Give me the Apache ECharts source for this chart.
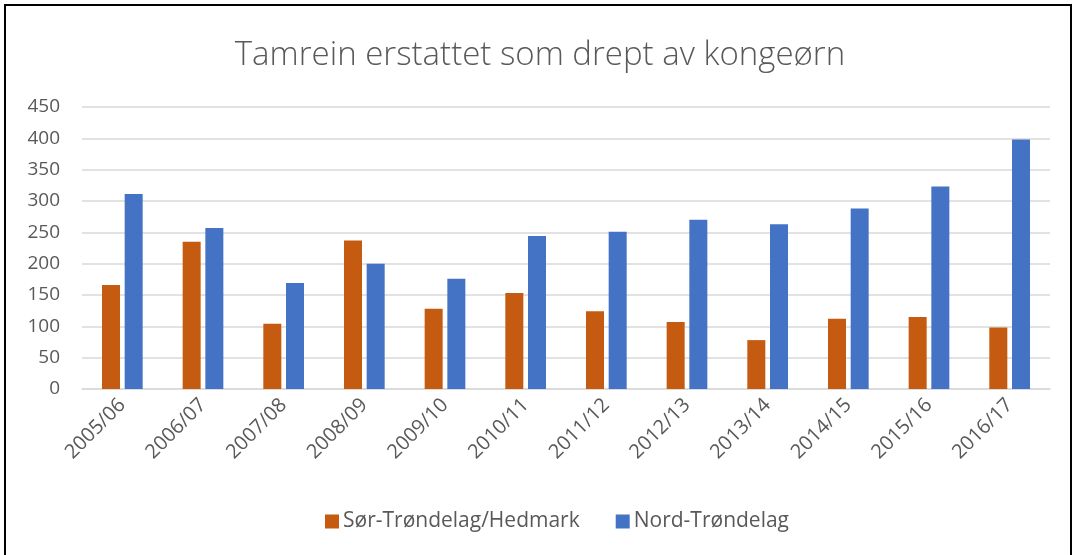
<!DOCTYPE html>
<html>
<head>
<meta charset="utf-8">
<script src="https://cdn.jsdelivr.net/npm/echarts@6/dist/echarts.min.js"></script>
<style>
  html, body { margin: 0; padding: 0; background: #fff; }
  #frame {
    position: absolute; left: 4px; top: 4px; width: 1068px; height: 560px;
    border: 2px solid #000; box-sizing: border-box;
  }
  #chart { position: absolute; left: 0; top: 0; width: 1080px; height: 555px; }
</style>
</head>
<body>
<div id="frame"></div>
<div id="chart"></div>
<script>
const seasons = ['2005/06', '2006/07', '2007/08', '2008/09', '2009/10', '2010/11',
  '2011/12', '2012/13', '2013/14', '2014/15', '2015/16', '2016/17']
const sorTrondelag = [166, 235, 104, 237, 128, 153, 124, 107, 78, 112, 115, 98]
const nordTrondelag = [311, 257, 169, 200, 176, 244, 251, 270, 263, 288, 323, 398]
const yTicks = { min: 0, max: 450, interval: 50 }

const textColor = '#595959'
const fontFamily = '"Open Sans", Lato, sans-serif'

const myChart = echarts.init(document.getElementById('chart'))
const option = {
  animation: false,
  title: {
    text: 'Tamrein erstattet som drept av kongeørn',
    left: 'center',
    top: 34,
    textStyle: { fontFamily, fontSize: 33, fontWeight: 300, color: textColor },
  },
  color: ['#c55a11', '#4472c4'],
  legend: {
    bottom: 18,
    left: 320,
    itemWidth: 14,
    itemHeight: 14,
    itemGap: 36,
    icon: 'rect',
    textStyle: { fontFamily, fontSize: 21, color: textColor, padding: [0, 0, 0, -1] },
    data: ['Sør-Trøndelag/Hedmark', 'Nord-Trøndelag'],
  },
  grid: {
    left: 82,
    right: 30,
    top: 107,
    bottom: 166,
  },
  xAxis: [
    {
      type: 'category',
      data: seasons,
      axisTick: { show: false },
      axisLine: { lineStyle: { color: '#d9d9d9', width: 1.5 } },
      axisLabel: {
        rotate: 45,
        margin: 13,
        fontFamily,
        fontSize: 20,
        color: textColor,
        interval: 0,
      },
    },
  ],
  yAxis: [
    {
      type: 'value',
      min: yTicks.min,
      max: yTicks.max,
      interval: yTicks.interval,
      axisLabel: { fontFamily, fontSize: 19, color: textColor, margin: 22 },
      splitLine: { lineStyle: { color: '#d9d9d9', width: 1.5 } },
    },
  ],
  series: [
    {
      name: 'Sør-Trøndelag/Hedmark',
      type: 'bar',
      barWidth: 18,
      barGap: '26%',
      data: sorTrondelag,
    },
    {
      name: 'Nord-Trøndelag',
      type: 'bar',
      barWidth: 18,
      barGap: '26%',
      data: nordTrondelag,
    },
  ],
}

option && myChart.setOption(option)
</script>
</body>
</html>
